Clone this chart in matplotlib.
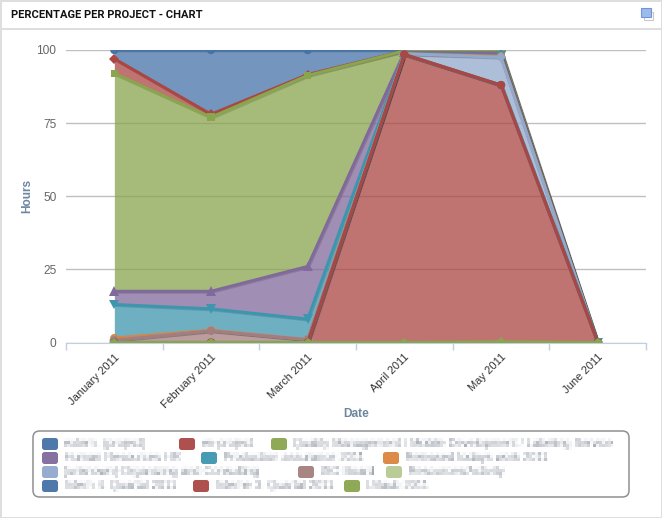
import numpy as np
import matplotlib
matplotlib.use("Agg")
import matplotlib.pyplot as plt
import matplotlib.patheffects as pe
from matplotlib.patches import FancyBboxPatch, Rectangle
from matplotlib.transforms import ScaledTranslation

plt.rcParams["font.family"] = ["Liberation Sans", "DejaVu Sans"]

MONTHS = ["January 2011", "February 2011", "March 2011", "April 2011", "May 2011", "June 2011"]
Y_TICKS = [0, 25, 50, 75, 100]

# share of each project per month, same order as the legend (first one is on top of the stack)
EXTERN = [3.0, 22.0, 8.4, 0.3, 0.3, 0]
INTERN_PROJECTS = [5.0, 1.0, 0.3, 0.0, 0.0, 0]
QUALITY = [74.5, 59.5, 65.3, 0.5, 0.7, 0]
HUMAN_RES = [4.5, 6.0, 18.0, 0.3, 1.0, 0]
PRODUCTION = [11.5, 7.3, 7.0, 0.2, 0.2, 0]
RELEASED = [0.7, 0.2, 0.0, 0.0, 0.3, 0]
ORGANIZING = [0.0, 0.0, 0.0, 0.2, 9.5, 0]
ISO_BOARD = [0.8, 4.0, 1.0, 0.0, 0.0, 0]
RESOURCES = [0.0, 0.0, 0.0, 0.0, 0.0, 0]
INTERN_Q4 = [0.0, 0.0, 0.0, 0.0, 0.0, 0]
INTERN_Q3 = [0.0, 0.0, 0.0, 98.5, 87.8, 0]
VACATION = [0.0, 0.0, 0.0, 0.0, 0.2, 0]

SERIES = [EXTERN, INTERN_PROJECTS, QUALITY, HUMAN_RES, PRODUCTION, RELEASED,
          ORGANIZING, ISO_BOARD, RESOURCES, INTERN_Q4, INTERN_Q3, VACATION]
NAMES = [
    "extern. (project)", "en-project",
    "Quality Management / Mobile Development / Labeling Service",
    "Human Resources HR", "Production assurance 2011",
    "Released todays work 2011",
    "[unknown]-Organizing and Consulting", "ISO Board", "Resources/Activity",
    "Intern 4. Quartal 2011", "Interne 3. Quartal 2011", "Urlaub 2011",
]
COLORS = ["#4572A7", "#AA4643", "#89A54E", "#80699B", "#3D96AE", "#DB843D",
          "#92A8CD", "#A47D7C", "#B5CA92", "#4572A7", "#AA4643", "#89A54E"]
MARKERS = ["o", "D", "s", "^", "v", "o", "D", "o", "o", "o", "o", "D"]
MARKER_SIZES = {"o": 6, "D": 5, "s": 5.5, "^": 7, "v": 7}

W, H = 662, 518
LEGEND_ROWS = [444, 458, 472, 486]
LEGEND_SLOTS = [(42, 0), (179, 0), (271, 0), (42, 1), (201, 1), (383, 1),
                (42, 2), (298, 2), (386, 2), (42, 3), (193, 3), (344, 3)]


def pixelate(img, dpi, size=3):
    # names in the legend are unreadable mosaics in the screenshot
    h, w = img.shape[:2]
    out = img.copy()
    for y in range(0, h, size):
        for x in range(0, w, size):
            out[y:y + size, x:x + size] = img[y:y + size, x:x + size].mean(axis=(0, 1))
    return out, 0, 0


def fx(x):
    return x / W


def fy(y):
    return 1 - y / H


def draw_frame(fig):
    for rect in [(0, 0, W, 1.5), (0, 28.5, W, 1.5), (0, 516.5, W, 1.5), (0, 0, 1.5, H), (660.5, 0, 1.5, H)]:
        x, y, w, h = rect
        fig.add_artist(Rectangle((fx(x), fy(y + h)), w / W, h / H, color="#DEDEDE", lw=0))
    fig.text(fx(11), fy(15), "PERCENTAGE PER PROJECT - CHART", fontsize=8.0, fontweight="bold",
             family=["Roboto", "DejaVu Sans"], color="#111111", va="center")
    # little window icon in the corner
    fig.add_artist(Rectangle((fx(644), fy(19.5)), 9 / W, 8 / H, fc="white", ec="#C8C8C8", lw=0.8))
    fig.add_artist(Rectangle((fx(640.5), fy(16.5)), 10.5 / W, 8.5 / H, fc="#9DBBEA", ec="#6F95DC", lw=0.8))


def draw_chart(fig, ax):
    x = np.arange(len(MONTHS))
    data = np.array(SERIES, dtype=float)
    tops = np.cumsum(data[::-1], axis=0)[::-1]
    bottoms = np.vstack([tops[1:], np.zeros(len(MONTHS))])

    for i in range(len(SERIES)):
        ax.fill_between(x, bottoms[i], tops[i], color=COLORS[i], alpha=0.75, lw=0, zorder=2 + i * 0.01)
        ax.plot(x, tops[i], color=COLORS[i], lw=2.2, marker=MARKERS[i], ms=MARKER_SIZES[MARKERS[i]], mew=0,
                zorder=3 + i * 0.01, solid_joinstyle="round",
                path_effects=[pe.SimpleLineShadow(offset=(0.7, -0.7), shadow_color="#333333", alpha=0.18),
                              pe.Normal()])

    ax.set_xlim(-0.5, len(MONTHS) - 0.5)
    ax.set_ylim(0, 100)
    ax.set_xticks(x)
    ax.set_xticklabels(MONTHS, rotation=45, ha="right", rotation_mode="anchor", fontsize=8.0, color="#333333")
    shift = ScaledTranslation(3 / 100, 0, fig.dpi_scale_trans)
    for label in ax.get_xticklabels():
        label.set_transform(label.get_transform() + shift)
    ax.set_xticks(np.arange(len(MONTHS) + 1) - 0.5, minor=True)
    ax.tick_params(axis="x", which="major", length=0, pad=7)
    ax.tick_params(axis="x", which="minor", length=5, width=1, color="#C0D0E0")
    ax.set_yticks(Y_TICKS)
    ax.tick_params(axis="y", length=0, pad=7, labelsize=8.6, labelcolor="#666666")
    ax.yaxis.grid(True, color="#C0C0C0", lw=1)
    ax.set_axisbelow(True)
    for side in ["top", "left", "right"]:
        ax.spines[side].set_visible(False)
    ax.spines["bottom"].set_color("#C0D0E0")
    ax.spines["bottom"].set_zorder(1)


def draw_legend(fig):
    fig.add_artist(FancyBboxPatch((fx(33), fy(497)), 596 / W, 66 / H,
                                  boxstyle="round,pad=0,rounding_size=0.01", mutation_aspect=W / H,
                                  fc="white", ec="#909090", lw=1.1))
    for name, color, (sx, row) in zip(NAMES, COLORS, LEGEND_SLOTS):
        cy = LEGEND_ROWS[row]
        fig.add_artist(FancyBboxPatch((fx(sx), fy(cy + 6)), 16 / W, 12 / H,
                                      boxstyle="round,pad=0,rounding_size=0.004", mutation_aspect=W / H,
                                      fc=color, ec="none", alpha=0.95))
        label = fig.text(fx(sx + 22), fy(cy), name, fontsize=8.4, color="#6C7686", va="center")
        label.set_agg_filter(pixelate)


def main():
    fig = plt.figure(figsize=(W / 100, H / 100), dpi=100, facecolor="white")
    ax = fig.add_axes([fx(66), fy(342.5), 580 / W, 292.5 / H], facecolor="none")
    draw_frame(fig)
    draw_chart(fig, ax)
    fig.text(fx(27), fy(196), "Hours", rotation=90, fontsize=8.6, fontweight="bold", color="#6D869F",
             ha="center", va="center")
    fig.text(fx(356), fy(414), "Date", fontsize=8.6, fontweight="bold", color="#6D869F", ha="center", va="center")
    draw_legend(fig)
    fig.savefig("out.png", dpi=100)
    plt.close(fig)


if __name__ == "__main__":
    main()
